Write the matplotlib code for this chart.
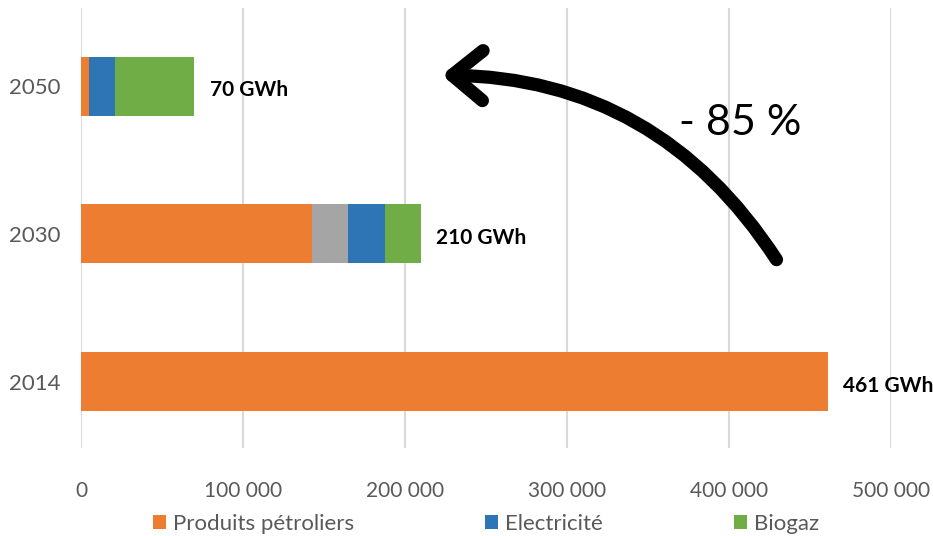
import matplotlib
matplotlib.use("Agg")
import matplotlib.pyplot as plt
from matplotlib.patches import FancyArrowPatch

plt.rcParams['font.family'] = ['Lato', 'DejaVu Sans']

# Consommation d'énergie par source (MWh)
years = ["2014", "2030", "2050"]
petrole = [461000, 142600, 4900]
autres = [0, 22200, 0]
electricite = [0, 22900, 16100]
biogaz = [0, 22300, 49000]
totals_gwh = [461, 210, 70]
xticks = [0, 100000, 200000, 300000, 400000, 500000]
xtick_labels = ["0", "100 000", "200 000", "300 000", "400 000", "500 000"]

series = [
    ("Produits pétroliers", petrole, "#ED7D31", True),
    ("Autres", autres, "#A5A5A5", False),
    ("Electricité", electricite, "#2E75B6", True),
    ("Biogaz", biogaz, "#70AD47", True),
]

W, H = 933, 536
fig = plt.figure(figsize=(W / 100, H / 100), dpi=100)
ax = fig.add_axes([81 / W, 1 - 448 / H, (891 - 81) / W, (448 - 8) / H])

ypos = list(range(len(years)))
left = [0] * len(years)
handles = []
for name, vals, color, in_legend in series:
    bars = ax.barh(ypos, vals, left=left, height=0.4, color=color, label=name)
    if in_legend:
        handles.append(bars)
    left = [l + v for l, v in zip(left, vals)]

for y, tot, g in zip(ypos, left, totals_gwh):
    ax.annotate(f"{g} GWh", xy=(tot, y), xytext=(11, -3), textcoords="offset points",
                ha="left", va="center", fontsize=15, fontweight="bold", color="black")

ax.set_xlim(0, 500000)
ax.set_ylim(-0.45, 2.53)
ax.set_xticks(xticks)
ax.set_xticklabels(xtick_labels)
ax.set_yticks(ypos)
ax.set_yticklabels(years)
ax.tick_params(axis="x", length=0, labelsize=15, labelcolor="#595959", pad=24)
ax.tick_params(axis="y", length=0, labelsize=16, labelcolor="#595959", pad=15)
ax.grid(axis="x", color="#D9D9D9", linewidth=1.5)
ax.set_axisbelow(True)
for s in ax.spines.values():
    s.set_visible(False)

# Flèche de réduction 2014 -> 2050
arrow = FancyArrowPatch((778 / W, 1 - 262 / H), (439 / W, 1 - 75 / H),
                        transform=fig.transFigure,
                        connectionstyle="arc3,rad=0.27",
                        arrowstyle="->,head_length=1.1,head_width=0.9",
                        mutation_scale=20, linewidth=9.5, color="black",
                        capstyle="round", joinstyle="round")
fig.add_artist(arrow)
fig.text(740 / W, 1 - 123 / H, "- 85 %", fontsize=31, ha="center", va="center",
         color="black")

fig.legend(handles=handles, loc="center", bbox_to_anchor=(486 / W, 1 - 524 / H),
           ncol=3, frameon=False, fontsize=16, labelcolor="#595959",
           handlelength=0.6, handleheight=0.6, handletextpad=0.3,
           columnspacing=5.9)

fig.savefig("out.png", dpi=100)
